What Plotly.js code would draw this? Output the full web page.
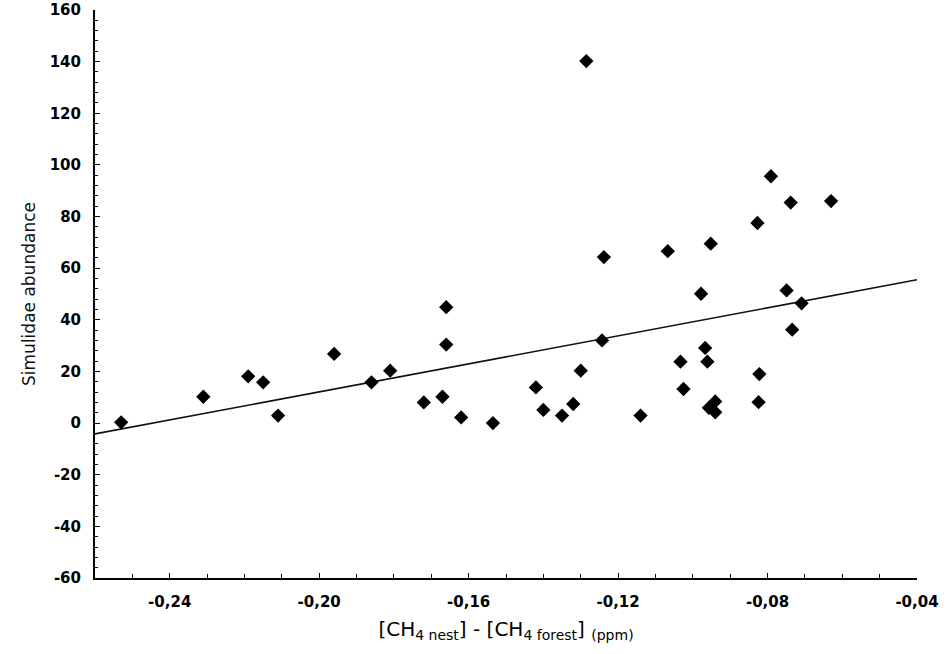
<!DOCTYPE html>
<html>
<head>
<meta charset="utf-8">
<script src="https://cdn.plot.ly/plotly-3.0.1.min.js"></script>
<style>
  html, body { margin: 0; padding: 0; background: #fff; }
  #plot { width: 950px; height: 654px; }
</style>
</head>
<body>
<div id="plot"></div>
<script>
// CH4 difference (nest - forest), ppm
const ch4Diff = [
    -0.253, -0.231, -0.219, -0.215, -0.211, -0.196, -0.186, -0.181,
    -0.172, -0.167, -0.166, -0.166, -0.162, -0.1535, -0.142, -0.140,
    -0.135, -0.132, -0.130, -0.1285, -0.1243, -0.1238, -0.114, -0.1067,
    -0.1033, -0.1025, -0.0978, -0.0967, -0.0961, -0.0957, -0.0952, -0.094,
    -0.094, -0.0827, -0.0824, -0.0822, -0.0791, -0.0749, -0.0738, -0.0734,
    -0.0709, -0.063
];
// Simuliidae abundance
const abundance = [
    0.3, 10.2, 18.1, 15.8, 2.9, 26.8, 15.8, 20.3,
    8.0, 10.2, 30.4, 44.9, 2.2, 0, 13.8, 5.1,
    2.9, 7.4, 20.3, 140.2, 32.0, 64.3, 2.9, 66.6,
    23.8, 13.2, 50.1, 29.1, 23.8, 5.9, 69.5, 8.4,
    4.2, 77.5, 8.1, 19.0, 95.6, 51.4, 85.4, 36.2,
    46.4, 86.0
];

// regression line ends
const fitX = [-0.26, -0.04];
const fitY = [-4.2, 55.5];

const xTickVals = [-0.24, -0.20, -0.16, -0.12, -0.08, -0.04];
const xTickText = ['-0,24', '-0,20', '-0,16', '-0,12', '-0,08', '-0,04'];
const yTickVals = [-60, -40, -20, 0, 20, 40, 60, 80, 100, 120, 140, 160];
const yTickText = ['-60', '-40', '-20', '0', '20', '40', '60', '80', '100', '120', '140', '160'];

const tickFont = {family: 'DejaVu Sans', size: 15, color: '#000', weight: 'bold'};

let points = {
    x: ch4Diff,
    y: abundance,
    type: 'scatter',
    mode: 'markers',
    marker: {symbol: 'diamond', size: 11, color: '#000'},
    cliponaxis: false,
    showlegend: false,
};

let fit = {
    x: fitX,
    y: fitY,
    type: 'scatter',
    mode: 'lines',
    line: {color: '#111', width: 1.6},
    showlegend: false,
};

let layout = {
    width: 950,
    height: 654,
    margin: {l: 95, r: 33, t: 10, b: 76},
    paper_bgcolor: '#fff',
    plot_bgcolor: '#fff',
    showlegend: false,
    xaxis: {
        range: [-0.26, -0.04],
        tickmode: 'array',
        tickvals: xTickVals,
        ticktext: xTickText,
        ticks: 'inside',
        ticklen: 5,
        tickcolor: '#000',
        minor: {dtick: 0.01, tick0: -0.24, ticks: 'inside', ticklen: 4, tickcolor: '#000'},
        showline: true,
        linecolor: '#000',
        linewidth: 2,
        showgrid: false,
        zeroline: false,
        tickfont: tickFont,
        ticklabelstandoff: 9,
        title: {
            text: '[CH<sub>4 nest</sub>] - [CH<sub>4 forest</sub>] <sub>(ppm)</sub>',
            font: {family: 'DejaVu Sans', size: 20, color: '#000'},
            standoff: 12,
        },
    },
    yaxis: {
        range: [-60, 160],
        tickmode: 'array',
        tickvals: yTickVals,
        ticktext: yTickText,
        ticks: 'inside',
        ticklen: 5,
        tickcolor: '#000',
        minor: {dtick: 4, tick0: 0, ticks: 'inside', ticklen: 3, tickcolor: '#000'},
        showline: true,
        linecolor: '#000',
        linewidth: 2,
        showgrid: false,
        zeroline: false,
        tickfont: tickFont,
        ticklabelstandoff: 9,
        title: {
            text: 'Simulidae abundance',
            font: {family: 'DejaVu Sans', size: 17, color: '#111'},
            standoff: 10,
        },
    },
};

Plotly.newPlot('plot', [fit, points], layout, {staticPlot: true});
</script>
</body>
</html>
